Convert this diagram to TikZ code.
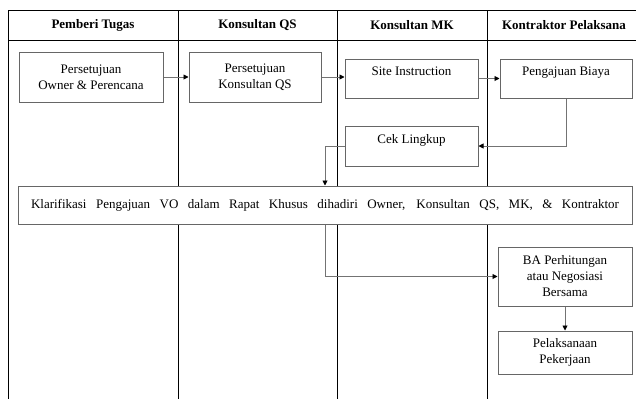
\documentclass[tikz,border=0pt]{standalone}
\usepackage{fontspec}
\setmainfont{Liberation Serif}
\usetikzlibrary{arrows.meta,positioning}

\tikzset{
  box/.style={draw=black!60,fill=white,line width=1pt,align=center,inner sep=2pt,
    font=\fontsize{13}{16}\selectfont},
  topbox/.style={box,text height=9pt,text depth=15pt},
  lane/.style={line width=0.8pt},
  head/.style={font=\bfseries\fontsize{13}{15}\selectfont},
  flow/.style={draw=black!55,line width=0.9pt,
    -{Triangle[length=5pt,width=5pt,color=black]}}
}

\begin{document}
\begin{tikzpicture}[x=1pt,y=-1pt]
\useasboundingbox (0,0) rectangle (636,399);
%lajur
\draw[lane] (636,10) -- (8,10) -- (8,399);
\draw[lane] (8,40) -- (636,40);
\foreach \xx in {178,337,487} \draw[lane] (\xx,10) -- (\xx,399);

%judul kolom
\node[head] (h1) at (93,25) {Pemberi Tugas};
\node[head] (h2) at (257.5,25) {Konsultan QS};
\node[head] (h3) at (412,25) {Konsultan MK};
\node[head] (h4) at (564,25) {Kontraktor Pelaksana};

%kotak proses
\node[box,minimum width=144pt,minimum height=50pt] (setowner) at (91,77) {Persetujuan\\Owner \& Perencana};
\node[box,minimum width=132pt,minimum height=50pt] (setqs) at (255,77) {Persetujuan\\Konsultan QS};
\node[topbox,minimum width=133pt,minimum height=39pt] (site) at (411.5,78.5) {Site Instruction};
\node[topbox,minimum width=132pt,minimum height=39pt] (biaya) at (566,78.5) {Pengajuan Biaya};
\node[topbox,minimum width=133pt,minimum height=40pt] (cek) at (411.5,146) {Cek Lingkup};
\node[box,minimum width=614pt,minimum height=38pt] (klar) at (325,205)
  {\makebox[588pt][s]{Klarifikasi Pengajuan VO dalam Rapat Khusus dihadiri Owner, Konsultan QS, MK, \& Kontraktor}};
\node[box,minimum width=134pt,minimum height=59pt] (ba) at (565,276.5) {BA Perhitungan\\atau Negosiasi\\Bersama};
\node[box,minimum width=134pt,minimum height=43pt,below=24pt of ba] (pel) {Pelaksanaan\\Pekerjaan};

%alur
\draw[flow] (setowner) -- (setqs);
\draw[flow] (setqs.east) -- (setqs.east -| site.west);
\draw[flow] (site) -- (biaya);
\draw[flow] (biaya.south) |- (cek.east);
\draw[flow] (cek.west) -| (klar.north);
\draw[flow] (klar.south) |- (ba.west);
\draw[flow] (ba) -- (pel);
\end{tikzpicture}
\end{document}
